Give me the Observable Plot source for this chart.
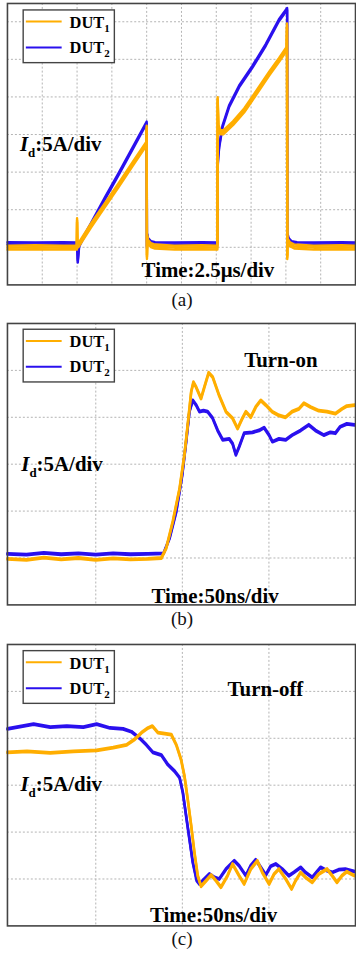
<!DOCTYPE html>
<html><head><meta charset="utf-8">
<script src="https://cdn.jsdelivr.net/npm/d3@7"></script>
<script src="https://cdn.jsdelivr.net/npm/@observablehq/plot@0.6"></script>
<style>
html,body{margin:0;padding:0;background:#fff;overflow:hidden;}
#root{position:relative;width:356px;height:955px;overflow:hidden;background:#fff;}
.panel{position:absolute;left:0;}
.cap{position:absolute;left:0;width:364px;text-align:center;font-family:"Liberation Serif",serif;font-size:19px;line-height:19px;color:#111;}
</style></head><body><div id="root"></div>
<script>
// ---------- Panel (a): double pulse, 2.5 us/div, 5 A/div ----------
const aGridX = [2.5, 5, 7.5, 10, 12.5, 15, 17.5, 20, 22.5];
const aGridY = [0, 5, 10, 15, 20, 25, 30];
const aT1 = [0, 2, 4, 4.98, 5.0, 5.03, 5.1, 6, 7, 8, 9, 9.98, 10.0, 10.02, 10.05, 10.1, 10.3, 10.6, 12, 14, 15.08, 15.1, 15.15, 15.3, 15.5, 16.2, 17, 17.6, 18.8, 19.5, 20.05, 20.08, 20.1, 20.12, 20.15, 20.3, 20.6, 22, 24, 25];
const aI1 = [-0.05, 0, -0.05, -0.05, 3.6, 0.2, 0.3, 2.9, 5.6, 8.3, 11.1, 13.8, 15.9, -1.3, 1.3, 0.7, 0.3, 0.1, -0.05, 0, -0.05, 19.7, 16.0, 15.3, 15.3, 16.5, 18.2, 19.8, 23.1, 24.9, 26.4, 29.5, -1.3, 1.0, 0.8, 0.4, 0.1, -0.05, 0, -0.05];
const aT2 = [0, 2, 4, 4.98, 5.0, 5.05, 5.15, 5.34, 6, 7, 8, 9, 10.0, 10.02, 10.05, 10.1, 10.3, 10.6, 12, 14, 15.08, 15.1, 15.14, 15.21, 15.45, 15.93, 16.64, 17.59, 18.55, 19.5, 20.09, 20.1, 20.13, 20.2, 20.4, 20.8, 22, 24, 25];
const aI2 = [0.55, 0.5, 0.55, 0.5, 0.5, -1.9, 0.2, 0.9, 3.1, 6.5, 9.8, 13.2, 16.6, 0.0, 1.6, 1.1, 0.7, 0.55, 0.5, 0.55, 0.5, 10.8, 12.0, 13.4, 16.1, 18.8, 21.4, 24.0, 26.9, 30.2, 31.7, 0.2, 1.6, 1.1, 0.7, 0.55, 0.5, 0.55, 0.5];

// ---------- Panel (b): turn-on, 50 ns/div ----------
const bGridX = [50, 100, 150];
const bGridY = [0, 5, 10, 15, 20];
const bT1 = [-1, 10, 20, 30, 40, 50, 60, 70, 80, 87.9, 90.7, 94.5, 98.4, 101.2, 103.1, 105.1, 106.4, 108, 110.8, 112.7, 115.2, 117.5, 121.3, 125.2, 129, 131.9, 134.7, 136.7, 139.5, 142.4, 145.3, 148.2, 151.9, 155.8, 159.6, 163.4, 167.3, 170.2, 174, 178.8, 183.5, 188.4, 192.2, 195, 199.5, 200];
const bI1 = [-0.1, -0.2, 0.05, -0.15, 0.0, -0.2, -0.05, -0.15, -0.1, 0.0, 1.06, 3.9, 7.4, 11.0, 14.2, 17.7, 18.75, 18.2, 17.0, 18.2, 19.75, 19.3, 17.3, 15.6, 14.9, 13.8, 14.9, 15.6, 15.0, 16.1, 16.8, 16.3, 15.6, 15.2, 15.0, 15.6, 15.9, 16.5, 16.1, 15.7, 15.6, 15.4, 15.9, 16.2, 16.3, 16.3];
const bT2 = [-1, 10, 20, 30, 40, 50, 60, 70, 80, 89.2, 92.6, 96.5, 99.9, 102.2, 104.1, 106, 108, 109.9, 112.2, 114.6, 117.5, 120.4, 123.3, 127.1, 129, 130.9, 132.8, 135.7, 140.5, 144.3, 147.2, 150.1, 152, 155.8, 159.7, 163.4, 168.3, 173, 176.9, 181.7, 185.5, 188.4, 191.2, 195, 199.5, 200];
const bI2 = [0.45, 0.35, 0.55, 0.4, 0.5, 0.35, 0.5, 0.4, 0.45, 0.5, 2.1, 4.95, 8.8, 12.4, 15.6, 16.8, 16.3, 15.6, 15.7, 15.6, 14.9, 13.6, 12.6, 12.7, 12.2, 11.0, 11.85, 13.3, 13.4, 13.6, 13.9, 13.1, 12.4, 12.7, 12.6, 13.1, 13.6, 14.2, 13.6, 13.1, 13.4, 13.3, 14.0, 14.3, 14.2, 14.2];

// ---------- Panel (c): turn-off, 50 ns/div ----------
const cGridX = [50, 100, 150];
const cGridY = [0, 5, 10, 15, 20];
const cT1 = [-1, 10.3, 23.7, 37.1, 50.5, 60.1, 67.8, 72.5, 76.4, 80.2, 82.7, 85.9, 89.8, 93.6, 96.5, 99.3, 101.2, 103.1, 105.1, 107, 108.9, 110.8, 113.7, 116.6, 119.4, 122.3, 126.1, 129, 132.8, 135.7, 139.5, 143.3, 146.2, 150.1, 153, 155.8, 159.7, 163.1, 165.4, 168.3, 171.1, 175, 178.8, 183.6, 186.5, 189.3, 192.2, 195, 199.5, 200];
const cI1 = [13.5, 13.6, 13.45, 13.6, 13.7, 14.0, 14.3, 14.9, 15.6, 16.1, 16.3, 15.6, 15.5, 15.4, 14.3, 12.7, 11.0, 8.5, 5.7, 2.8, 0.35, -0.78, -0.18, 0.42, -0.18, -0.88, 0.35, 1.6, 0.35, -0.53, 1.06, 1.94, 0.7, -0.53, 0.53, 1.06, 0, -1.06, -0.18, 0.7, 0.18, -0.35, 0.53, 1.06, 0.35, -0.35, 0.35, 0.78, 0.35, 0.35];
const cT2 = [-1, 14.1, 23.7, 33.3, 42.8, 50.5, 58.2, 65.8, 70.6, 75.4, 79.2, 83, 87.9, 91.6, 95.5, 98.4, 100.3, 102.2, 104.1, 106, 108.3, 109.9, 112.7, 115.6, 118.5, 121.3, 125.2, 130, 132.8, 136.7, 139.5, 142.4, 145.3, 148.2, 151, 153.9, 157.7, 161.5, 164.4, 168.3, 171.1, 175, 179.8, 183.6, 186.5, 190.3, 194.1, 199.5, 200];
const cI2 = [16.0, 16.5, 16.2, 16.3, 16.2, 16.5, 16.1, 16.0, 15.7, 15.0, 14.3, 13.5, 13.2, 12.2, 11.5, 10.8, 9.2, 6.7, 4.25, 1.8, -0.18, -0.53, 0, 0.53, 0.18, 0, 1.06, 1.94, 1.41, 0.35, 1.41, 2.05, 1.24, 0.42, 1.35, 1.6, 1.06, 0.35, 0.7, 1.24, 0.7, 0.18, 1.24, 0.88, 0.7, 0.99, 1.06, 0.78, 0.78];

const seriesNames = ["DUT", "DUT"];
const seriesSubs = ["1", "2"];
const ORANGE = "#FFAE00", BLUE = "#2A10EE";
const FONT = "Liberation Serif, Times New Roman, serif";

const rows = (T, I) => T.map((t, k) => ({t, i: I[k]}));

function traces(T, I, color, width, offsets) {
  const d = rows(T, I);
  return offsets.map(dy => Plot.line(d, {x: "t", y: "i", stroke: color, strokeWidth: width, dy, strokeLinejoin: "round"}));
}

const txt = (label, pos, extra = {}) => Plot.text([label], {
  x: [pos[0]], y: [pos[1]], text: d => d, lineAnchor: "bottom",
  fontSize: 21, fontWeight: "bold", fontFamily: FONT, fill: "#000", ...extra
});

function makePanel(cfg) {
  const svg = Plot.plot({
    width: 358, height: 288,
    marginTop: 3, marginBottom: 2, marginLeft: 7, marginRight: 1,
    x: {domain: cfg.xDomain, axis: null},
    y: {domain: cfg.yDomain, axis: null},
    style: {background: "transparent", overflow: "visible"},
    marks: [
      Plot.ruleX(cfg.gridX, {stroke: "#b3b3b3", strokeDasharray: "2,2", strokeWidth: 1}),
      Plot.ruleY(cfg.gridY, {stroke: "#b3b3b3", strokeDasharray: "2,2", strokeWidth: 1}),
      ...traces(cfg.t2, cfg.i2, BLUE, cfg.w2, cfg.off2),
      ...traces(cfg.t1, cfg.i1, ORANGE, cfg.w1, cfg.off1),
      txt(cfg.timeLabel, cfg.timePos, {textAnchor: "middle"}),
      txt("Id:5A/div", cfg.idPos, {textAnchor: "start", className: "idlabel"}),
      ...(cfg.title ? [txt(cfg.title, cfg.titlePos, {textAnchor: "start"})] : []),
      Plot.frame({stroke: "#444", strokeWidth: 1.6})
    ]
  });
  const s = d3.select(svg);
  // subscript for I_d
  s.selectAll(".idlabel text").each(function() {
    const t = d3.select(this);
    t.text(null);
    t.append("tspan").attr("font-style", "italic").text("I");
    t.append("tspan").attr("font-size", 13).attr("dy", 6).text("d");
    t.append("tspan").attr("dy", -6).text(":5A/div");
  });
  // legend box
  const g = s.append("g").attr("transform", `translate(23.3,${cfg.legendTop})`).attr("text-anchor", "start");
  g.append("rect").attr("width", 91.7).attr("height", 53).attr("fill", "#fff").attr("stroke", "#444").attr("stroke-width", 1.4);
  [ORANGE, BLUE].forEach((c, k) => {
    const y = 11.7 + 26 * k;
    g.append("line").attr("x1", 2.7).attr("x2", 38.7).attr("y1", y).attr("y2", y).attr("stroke", c).attr("stroke-width", 2);
    const tx = g.append("text").attr("x", 46.7).attr("y", 18.3 + 25 * k).attr("text-anchor", "start")
      .attr("font-family", FONT).attr("font-weight", "bold").attr("font-size", 16.5).attr("fill", "#000");
    tx.append("tspan").text(seriesNames[k]);
    tx.append("tspan").attr("font-size", 11).attr("dy", 4).text(seriesSubs[k]);
  });
  const wrap = document.createElement("div");
  wrap.className = "panel";
  wrap.style.top = cfg.top + "px";
  wrap.appendChild(svg);
  return wrap;
}

const root = document.getElementById("root");
root.appendChild(makePanel({
  top: 0, xDomain: [0, 25], yDomain: [-5, 32.43], gridX: aGridX, gridY: aGridY,
  t1: aT1, i1: aI1, t2: aT2, i2: aI2, w1: 2.4, off1: [-2, 0, 2], w2: 2.4, off2: [-1, 1],
  timeLabel: "Time:2.5μs/div", timePos: [14.4, -3.98], idPos: [0.9, 12.76], legendTop: 10
}));
root.appendChild(makePanel({
  top: 320, xDomain: [-1, 200], yDomain: [-5, 25], gridX: bGridX, gridY: bGridY,
  t1: bT1, i1: bI1, t2: bT2, i2: bI2, w1: 2.6, off1: [-0.6, 0.6], w2: 2.6, off2: [-0.6, 0.6],
  timeLabel: "Time:50ns/div", timePos: [118.9, -4.78], idPos: [7.0, 9.27], legendTop: 9.3,
  title: "Turn-on", titlePos: [135.7, 20.4]
}));
root.appendChild(makePanel({
  top: 641, xDomain: [-1, 200], yDomain: [-5, 25], gridX: cGridX, gridY: cGridY,
  t1: cT1, i1: cI1, t2: cT2, i2: cI2, w1: 2.6, off1: [-0.6, 0.6], w2: 2.6, off2: [-0.6, 0.6],
  timeLabel: "Time:50ns/div", timePos: [118, -4.56], idPos: [6.5, 9.37], legendTop: 9.7,
  title: "Turn-off", titlePos: [126.1, 19.46]
}));
[["(a)", 290], ["(b)", 609], ["(c)", 929]].forEach(([t, top]) => {
  const d = document.createElement("div");
  d.className = "cap";
  d.style.top = top + "px";
  d.textContent = t;
  root.appendChild(d);
});
</script></body></html>
